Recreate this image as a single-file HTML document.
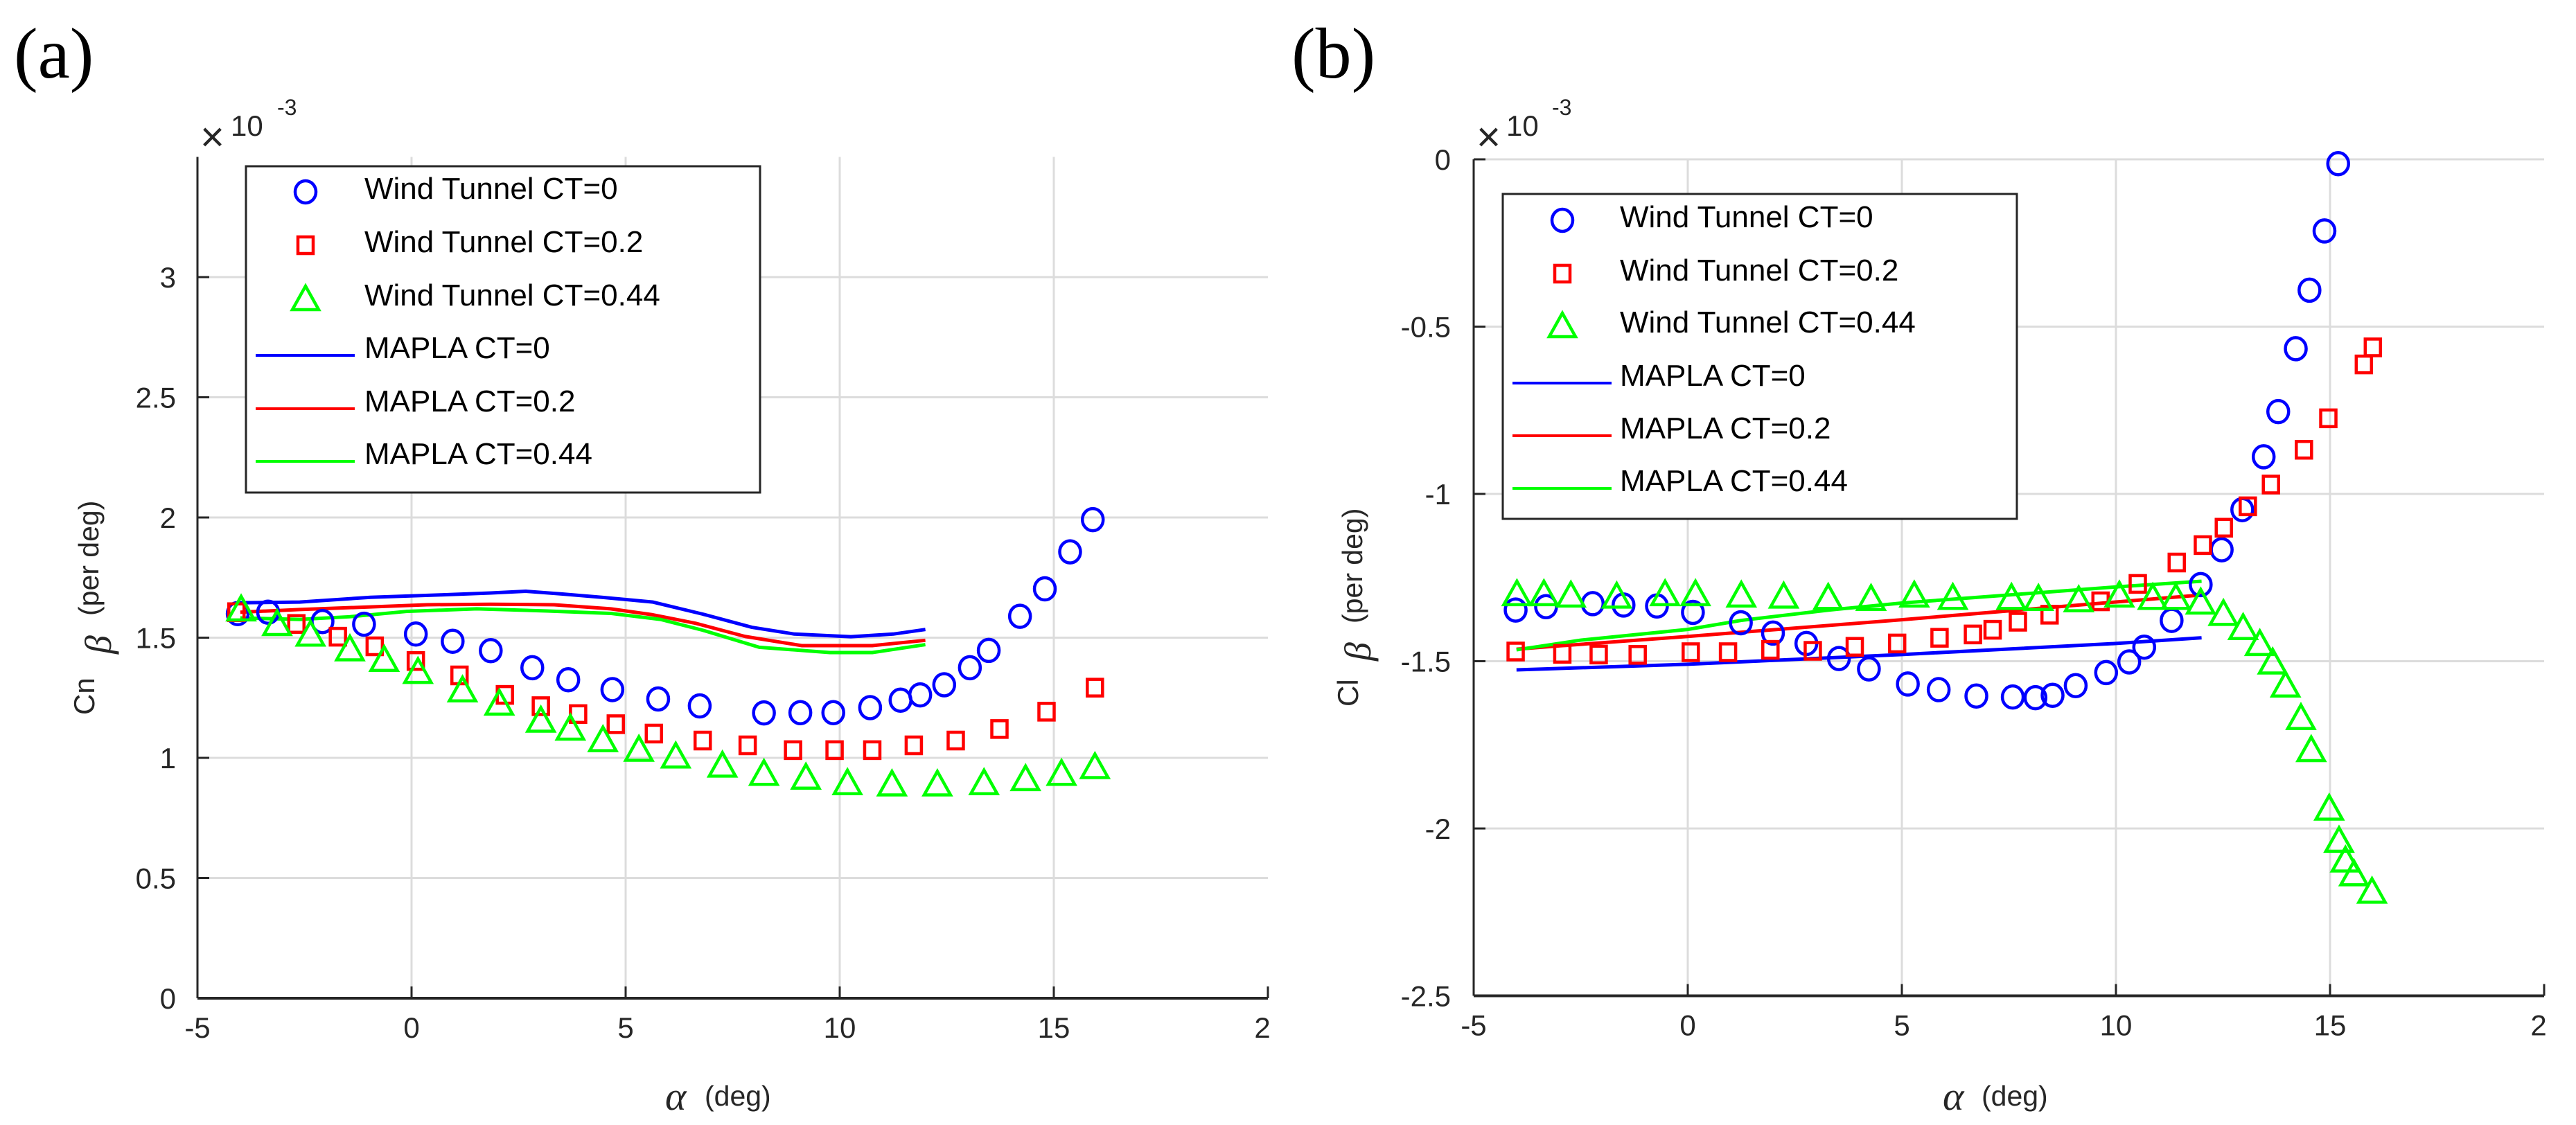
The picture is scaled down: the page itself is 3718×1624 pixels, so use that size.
<!DOCTYPE html>
<html><head><meta charset="utf-8"><style>
html,body{margin:0;padding:0;background:#fff;}
svg{display:block;}
text{font-family:"Liberation Sans",sans-serif;fill:#262626;}
</style></head>
<body>
<svg id="fig" width="3718" height="1624" viewBox="0 0 3718 1624" xmlns="http://www.w3.org/2000/svg">
<rect x="0" y="0" width="3718" height="1624" fill="#fff"/>
<text x="20" y="112" style="font-family:'Liberation Serif',serif;font-size:104px;fill:#000">(a)</text>
<text x="1864" y="112" style="font-family:'Liberation Serif',serif;font-size:104px;fill:#000">(b)</text>
<g><text x="289" y="218" font-size="60">×</text><text x="333" y="196" font-size="42">10</text><text x="400" y="166" font-size="32">-3</text></g>
<g><text x="2131" y="218" font-size="60">×</text><text x="2174" y="196" font-size="42">10</text><text x="2240" y="166" font-size="32">-3</text></g>
<g>
<text transform="translate(136,1032) rotate(-90)" font-size="42">Cn</text>
<text transform="translate(160,944) rotate(-90)" style="font-family:'Liberation Serif',serif;font-style:italic;font-size:54px">β</text>
<text transform="translate(142,889) rotate(-90)" font-size="41">(per deg)</text>
</g>
<g>
<text transform="translate(1960,1020) rotate(-90)" font-size="42">Cl</text>
<text transform="translate(1978,954) rotate(-90)" style="font-family:'Liberation Serif',serif;font-style:italic;font-size:54px">β</text>
<text transform="translate(1966,900) rotate(-90)" font-size="41">(per deg)</text>
</g>
<g>
<text x="960" y="1602" style="font-family:'Liberation Serif',serif;font-style:italic;font-size:58px">α</text>
<text x="1017" y="1596" font-size="41">(deg)</text>
</g>
<g>
<text x="2804" y="1602" style="font-family:'Liberation Serif',serif;font-style:italic;font-size:58px">α</text>
<text x="2860" y="1596" font-size="41">(deg)</text>
</g>
</svg>
<script>
// ---- shared axes data ----
const xTicks = [-5, 0, 5, 10, 15, 20];
const xTickLabels = ['-5', '0', '5', '10', '15', '2'];
const yTicksA = [0, 0.5, 1, 1.5, 2, 2.5, 3];
const yTickLabelsA = ['0', '0.5', '1', '1.5', '2', '2.5', '3'];
const yTicksB = [-2.5, -2, -1.5, -1, -0.5, 0];
const yTickLabelsB = ['-2.5', '-2', '-1.5', '-1', '-0.5', '0'];
const legendLabels = ['Wind Tunnel CT=0', 'Wind Tunnel CT=0.2', 'Wind Tunnel CT=0.44', 'MAPLA CT=0', 'MAPLA CT=0.2', 'MAPLA CT=0.44'];

// ---- panel (a) Cn_beta data ----
const aWt0X = [-4.06,-3.35,-2.08,-1.11,0.10,0.96,1.85,2.82,3.66,4.69,5.76,6.73,8.23,9.08,9.85,10.71,11.42,11.88,12.44,13.04,13.48,14.21,14.79,15.38,15.91];
const aWt0Y = [1.600,1.606,1.567,1.556,1.515,1.485,1.446,1.375,1.325,1.284,1.245,1.216,1.187,1.188,1.188,1.209,1.240,1.262,1.304,1.375,1.447,1.589,1.703,1.857,1.991];
const aWt2X = [-4.09,-2.69,-1.72,-0.86,0.10,1.12,2.18,3.02,3.89,4.77,5.66,6.80,7.85,8.91,9.88,10.76,11.73,12.71,13.73,14.83,15.96];
const aWt2Y = [1.606,1.557,1.504,1.464,1.403,1.343,1.262,1.215,1.182,1.140,1.101,1.072,1.052,1.032,1.032,1.032,1.052,1.072,1.120,1.192,1.292];
const aWt4X = [-3.98,-3.14,-2.36,-1.44,-0.64,0.15,1.19,2.05,3.02,3.71,4.47,5.31,6.17,7.26,8.23,9.21,10.18,11.22,12.28,13.37,14.34,15.18,15.96];
const aWt4Y = [1.620,1.559,1.515,1.454,1.410,1.360,1.283,1.228,1.157,1.124,1.076,1.036,1.008,0.970,0.936,0.920,0.897,0.892,0.892,0.897,0.914,0.936,0.964];
const aM0X = [-4.0,-2.61,-0.96,0.69,1.85,2.67,3.50,4.49,5.64,6.80,7.95,8.94,10.26,11.25,12.0];
const aM0Y = [1.645,1.648,1.668,1.678,1.686,1.693,1.682,1.667,1.648,1.598,1.543,1.515,1.504,1.515,1.534];
const aM2X = [-4.0,-2.61,-0.96,0.36,1.85,3.33,4.65,5.64,6.63,7.79,9.11,10.76,12.0];
const aM2Y = [1.606,1.617,1.628,1.637,1.639,1.637,1.620,1.595,1.560,1.505,1.467,1.467,1.489];
const aM4X = [-4.0,-2.61,-1.45,-0.13,1.52,3.17,4.65,5.81,6.80,8.12,9.77,10.76,12.0];
const aM4Y = [1.582,1.576,1.587,1.609,1.620,1.611,1.601,1.576,1.531,1.460,1.438,1.438,1.471];

// ---- panel (b) Cl_beta data ----
const bWt0X = [-4.02,-3.31,-2.22,-1.50,-0.72,0.12,1.24,1.99,2.77,3.53,4.23,5.14,5.86,6.74,7.59,8.12,8.52,9.06,9.77,10.31,10.66,11.30,11.98,12.47,12.95,13.45,13.79,14.20,14.52,14.87,15.19];
const bWt0Y = [-1.347,-1.337,-1.328,-1.332,-1.335,-1.354,-1.385,-1.416,-1.447,-1.492,-1.523,-1.568,-1.585,-1.604,-1.607,-1.609,-1.602,-1.573,-1.534,-1.502,-1.458,-1.378,-1.271,-1.167,-1.047,-0.889,-0.754,-0.566,-0.391,-0.214,-0.013];
const bWt2X = [-4.02,-2.93,-2.08,-1.17,0.07,0.94,1.93,2.92,3.90,4.89,5.88,6.66,7.12,7.71,8.45,9.64,10.51,11.42,12.03,12.52,13.08,13.62,14.39,14.96,15.79,16.0];
const bWt2Y = [-1.471,-1.478,-1.480,-1.481,-1.473,-1.473,-1.466,-1.469,-1.457,-1.447,-1.430,-1.420,-1.406,-1.382,-1.361,-1.321,-1.269,-1.205,-1.153,-1.101,-1.037,-0.972,-0.868,-0.774,-0.613,-0.562];
const bWt4X = [-3.99,-3.36,-2.73,-1.66,-0.53,0.18,1.25,2.24,3.28,4.28,5.29,6.19,7.56,8.19,9.13,10.08,10.86,11.40,11.98,12.51,12.97,13.36,13.66,13.96,14.32,14.56,14.98,15.21,15.36,15.56,15.98];
const bWt4Y = [-1.298,-1.298,-1.302,-1.305,-1.298,-1.298,-1.302,-1.305,-1.309,-1.312,-1.302,-1.309,-1.309,-1.312,-1.316,-1.302,-1.309,-1.309,-1.323,-1.357,-1.399,-1.447,-1.502,-1.571,-1.668,-1.764,-1.939,-2.035,-2.094,-2.135,-2.187];
const bM0X = [-4.0,0,5,10,12];
const bM0Y = [-1.526,-1.509,-1.480,-1.447,-1.430];
const bM2X = [-4.0,-2.98,0,5,10,12];
const bM2Y = [-1.464,-1.454,-1.426,-1.376,-1.323,-1.302];
const bM4X = [-4.0,-2.5,0,1.25,3.3,5,7.5,10,12];
const bM4Y = [-1.466,-1.437,-1.405,-1.378,-1.347,-1.326,-1.302,-1.278,-1.261];

const NS = 'http://www.w3.org/2000/svg';
const svg = document.getElementById('fig');
function mk(tag, attrs, parent) {
  const e = document.createElementNS(NS, tag);
  for (const k in attrs) e.setAttribute(k, attrs[k]);
  (parent || svg).appendChild(e);
  return e;
}
const BLUE = '#0000ff', RED = '#ff0000', GREEN = '#00ff00';

function drawMarker(g, kind, cx, cy) {
  let m;
  if (kind === 'circle') {
    m = mk('ellipse', {cx: cx, cy: cy, rx: 15, ry: 16, fill: 'none', stroke: BLUE, 'stroke-width': 4.5}, g);
  } else if (kind === 'square') {
    m = mk('rect', {x: cx - 11, y: cy - 12, width: 22, height: 24, fill: 'none', stroke: RED, 'stroke-width': 4.5}, g);
  } else {
    m = mk('polygon', {points: (cx - 19) + ',' + (cy + 16) + ' ' + (cx + 19) + ',' + (cy + 16) + ' ' + cx + ',' + (cy - 18), fill: 'none', stroke: GREEN, 'stroke-width': 4.5, 'stroke-linejoin': 'miter'}, g);
  }
  return m;
}

function drawPanel(p) {
  const sx = v => p.left + (v - p.xmin) / (p.xmax - p.xmin) * (p.right - p.left);
  const sy = v => p.bottom - (v - p.ymin) / (p.ymax - p.ymin) * (p.bottom - p.top);
  const grid = mk('g', {}, svg);
  
  
  xTicks.forEach(v => {
    if (v === p.xmin || v === p.xmax) return;
    const l = mk('line', {x1: sx(v), x2: sx(v), y1: p.top, y2: p.bottom, stroke: '#dcdcdc', 'stroke-width': 3}, grid);
    
    
  });
  p.yTicks.forEach(v => {
    if (v === p.ymin) return;
    const l = mk('line', {x1: p.left, x2: p.right, y1: sy(v), y2: sy(v), stroke: '#dcdcdc', 'stroke-width': 3}, grid);
    
    
  });
  const ax = mk('g', {}, svg);
  
  
  const yl = mk('line', {x1: p.left, x2: p.left, y1: p.top, y2: p.bottom, stroke: '#262626', 'stroke-width': 3}, ax);
  
  
  const xl = mk('line', {x1: p.left, x2: p.right, y1: p.bottom, y2: p.bottom, stroke: '#262626', 'stroke-width': 4}, ax);
  
  
  xTicks.forEach((v, i) => {
    const t = mk('line', {x1: sx(v), x2: sx(v), y1: p.bottom, y2: p.bottom - 17, stroke: '#262626', 'stroke-width': 3}, ax);
    
    
    const lb = mk('text', {x: sx(v) + (i === xTicks.length - 1 ? -8 : 0), y: p.bottom + 57, 'text-anchor': 'middle', 'font-size': 42}, ax);
    lb.textContent = xTickLabels[i];
    
    
  });
  p.yTicks.forEach((v, i) => {
    const t = mk('line', {x1: p.left, x2: p.left + 17, y1: sy(v), y2: sy(v), stroke: '#262626', 'stroke-width': 3}, ax);
    
    
    const lb = mk('text', {x: p.labelRight, y: sy(v) + 15, 'text-anchor': 'end', 'font-size': 42}, ax);
    lb.textContent = p.yLabels[i];
    
    
  });
  p.lines.forEach(s => {
    const pts = s.x.map((v, i) => sx(v) + ',' + sy(s.y[i])).join(' ');
    const pl = mk('polyline', {points: pts, fill: 'none', stroke: s.color, 'stroke-width': 5, 'stroke-linejoin': 'round'}, svg);
    
    
  });
  p.markers.forEach(s => {
    const g = mk('g', {}, svg);
    
    
    s.x.forEach((v, i) => {
      const m = drawMarker(g, s.kind, sx(v), sy(s.y[i]));
      
      
    });
  });
  const L = p.legend;
  const lg = mk('g', {}, svg);
  
  
  mk('rect', {x: L.x, y: L.y, width: L.w, height: L.h, fill: '#fff', stroke: '#262626', 'stroke-width': 3}, lg);
  const kinds = ['circle', 'square', 'triangle'];
  const cols = [BLUE, RED, GREEN];
  legendLabels.forEach((txt, i) => {
    const cy = L.rows[i];
    const entry = mk('g', {}, lg);
    
    
    if (i < 3) {
      drawMarker(entry, kinds[i], L.mx, cy + 6);
    } else {
      mk('line', {x1: L.lx1, x2: L.lx2, y1: cy + 12, y2: cy + 12, stroke: cols[i - 3], 'stroke-width': 4}, entry);
    }
    const t = mk('text', {x: L.tx, y: cy + 16, 'font-size': 44, fill: '#000'}, entry);
    t.style.fill = '#000';
    t.textContent = txt;
  });
}

drawPanel({
  id: 'a', left: 285, right: 1830, top: 226.5, bottom: 1441, xmin: -5, xmax: 20, ymin: 0, ymax: 3.5,
  yTicks: yTicksA, yLabels: yTickLabelsA, labelRight: 254,
  lines: [
    {name: 'mapla-ct0-line', color: BLUE, x: aM0X, y: aM0Y},
    {name: 'mapla-ct02-line', color: RED, x: aM2X, y: aM2Y},
    {name: 'mapla-ct044-line', color: GREEN, x: aM4X, y: aM4Y}
  ],
  markers: [
    {name: 'wind-tunnel-ct0', kind: 'circle', x: aWt0X, y: aWt0Y},
    {name: 'wind-tunnel-ct02', kind: 'square', x: aWt2X, y: aWt2Y},
    {name: 'wind-tunnel-ct044', kind: 'triangle', x: aWt4X, y: aWt4Y}
  ],
  legend: {x: 355, y: 240, w: 742, h: 471, rows: [271, 348, 425, 501, 578, 654], mx: 441, lx1: 369, lx2: 512, tx: 526}
});
drawPanel({
  id: 'b', left: 2127, right: 3672, top: 230, bottom: 1437.5, xmin: -5, xmax: 20, ymin: -2.5, ymax: 0,
  yTicks: yTicksB, yLabels: yTickLabelsB, labelRight: 2094,
  lines: [
    {name: 'mapla-ct0-line', color: BLUE, x: bM0X, y: bM0Y},
    {name: 'mapla-ct02-line', color: RED, x: bM2X, y: bM2Y},
    {name: 'mapla-ct044-line', color: GREEN, x: bM4X, y: bM4Y}
  ],
  markers: [
    {name: 'wind-tunnel-ct0', kind: 'circle', x: bWt0X, y: bWt0Y},
    {name: 'wind-tunnel-ct02', kind: 'square', x: bWt2X, y: bWt2Y},
    {name: 'wind-tunnel-ct044', kind: 'triangle', x: bWt4X, y: bWt4Y}
  ],
  legend: {x: 2169, y: 280, w: 742, h: 469, rows: [312, 389, 464, 541, 617, 693], mx: 2255, lx1: 2183, lx2: 2326, tx: 2338}
});
</script>
</body></html>
